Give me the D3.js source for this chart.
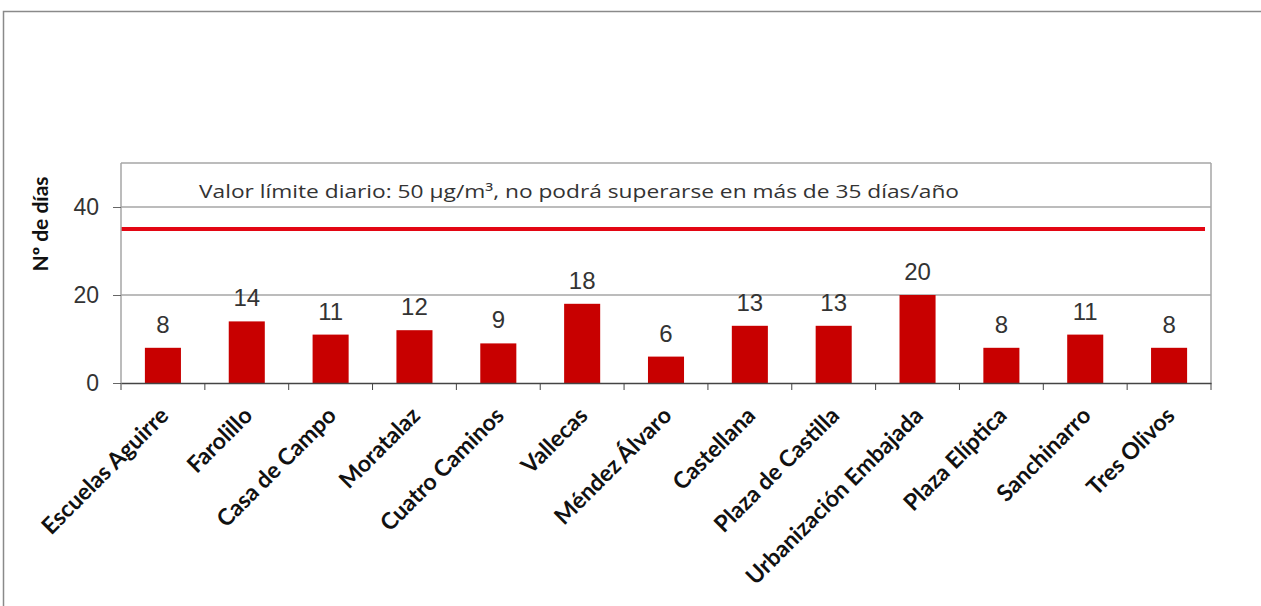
<!DOCTYPE html>
<html>
<head>
  <script src="https://d3js.org/d3.v7.min.js"></script>
  <style>
    body { margin: 0; background: #fff; }
  </style>
</head>
<body>
  <div id="chart"></div>
  <script>
    // data
    const stations = ["Escuelas Aguirre", "Farolillo", "Casa de Campo", "Moratalaz", "Cuatro Caminos",
      "Vallecas", "Méndez Álvaro", "Castellana", "Plaza de Castilla", "Urbanización Embajada",
      "Plaza Elíptica", "Sanchinarro", "Tres Olivos"];
    const days = [8, 14, 11, 12, 9, 18, 6, 13, 13, 20, 8, 11, 8];
    const yTicks = [0, 20, 40];
    const limitValue = 35;
    const limitText = "Valor límite diario: 50 µg/m³, no podrá superarse en más de 35  días/año";

    const W = 1261, H = 606;
    const margin = { top: 163, right: 50, bottom: 223, left: 121 };
    const width = W - margin.left - margin.right;
    const height = H - margin.top - margin.bottom;

    const svg = d3.select("#chart").append("svg")
      .attr("width", W).attr("height", H);

    // outer frame
    svg.append("path")
      .attr("d", "M3.5," + H + "V11.5H" + W)
      .attr("fill", "none").attr("stroke", "#8a8a8a").attr("stroke-width", 1.5);

    const g = svg.append("g")
      .attr("transform", "translate(" + margin.left + "," + margin.top + ")");

    const x = d3.scaleBand().domain(stations).range([0, width]).paddingInner(0.57).paddingOuter(0.285);
    const y = d3.scaleLinear().domain([0, 50]).range([height, 0]);
    const xb = d3.scaleBand().domain(stations).range([0, width]);

    // gridlines
    g.selectAll(".grid").data(yTicks.filter(d => d > 0).concat([50]))
      .enter().append("line")
      .attr("x1", 0).attr("x2", width)
      .attr("y1", d => y(d)).attr("y2", d => y(d))
      .attr("stroke", "#a6a6a6").attr("stroke-width", 1.5);

    // right border
    g.append("line").attr("x1", width).attr("x2", width)
      .attr("y1", 0).attr("y2", height)
      .attr("stroke", "#a6a6a6").attr("stroke-width", 1.5);

    // bars
    g.selectAll(".bar").data(days).enter().append("rect")
      .attr("x", (d, i) => x(stations[i]))
      .attr("width", x.bandwidth())
      .attr("y", d => y(d))
      .attr("height", d => height - y(d))
      .attr("fill", "#c80000");

    // value labels
    g.selectAll(".val").data(days).enter().append("text")
      .attr("x", (d, i) => x(stations[i]) + x.bandwidth() / 2)
      .attr("y", d => y(d) - 15)
      .attr("text-anchor", "middle")
      .attr("font-family", "Liberation Sans, Arial, sans-serif")
      .attr("font-size", 24)
      .attr("fill", "#333")
      .text(d => d);

    // limit line
    g.append("line")
      .attr("x1", 0).attr("x2", width - 6)
      .attr("y1", y(limitValue)).attr("y2", y(limitValue))
      .attr("stroke", "#e30613").attr("stroke-width", 4);

    g.append("text")
      .attr("x", 78).attr("y", 35)
      .attr("font-family", "'Open Sans', sans-serif")
      .attr("font-size", 18)
      .attr("textLength", 760)
      .attr("lengthAdjust", "spacingAndGlyphs")
      .attr("fill", "#333")
      .text(limitText);

    // y axis
    const yAxis = g.append("g")
      .call(d3.axisLeft(y).tickValues(yTicks).tickSize(8).tickPadding(14));
    yAxis.select(".domain").attr("stroke", "#a6a6a6").attr("stroke-width", 1.5)
      .attr("d", "M0," + height + "V0");
    yAxis.selectAll(".tick line").attr("stroke", "#666");
    yAxis.selectAll(".tick text")
      .attr("font-family", "Liberation Sans, Arial, sans-serif")
      .attr("font-size", 23).attr("fill", "#333");

    // x axis
    const xAxis = g.append("g")
      .attr("transform", "translate(0," + height + ")")
      .call(d3.axisBottom(xb).tickSize(0).tickFormat(""));
    xAxis.select(".domain").attr("stroke", "#444").attr("stroke-width", 1.5);
    xAxis.selectAll(".sep").data(d3.range(stations.length + 1)).enter().append("line")
      .attr("x1", i => i * xb.bandwidth()).attr("x2", i => i * xb.bandwidth())
      .attr("y1", 0).attr("y2", 7)
      .attr("stroke", "#444");

    g.selectAll(".xlab").data(stations).enter().append("text")
      .attr("transform", d => "translate(" + (xb(d) + xb.bandwidth() / 2 + 7) + "," + (height + 34) + ") rotate(-45)")
      .attr("text-anchor", "end")
      .attr("font-family", "Lato, 'Open Sans', sans-serif")
      .attr("font-weight", "bold")
      .attr("font-size", 23)
      .attr("fill", "#111")
      .text(d => d);

    // y axis title
    svg.append("text")
      .attr("transform", "translate(48," + (margin.top + 61) + ") rotate(-90)")
      .attr("text-anchor", "middle")
      .attr("font-family", "Lato, 'Open Sans', sans-serif")
      .attr("font-weight", "bold")
      .attr("font-size", 21)
      .attr("fill", "#111")
      .text("Nº de días");
  </script>
</body>
</html>
